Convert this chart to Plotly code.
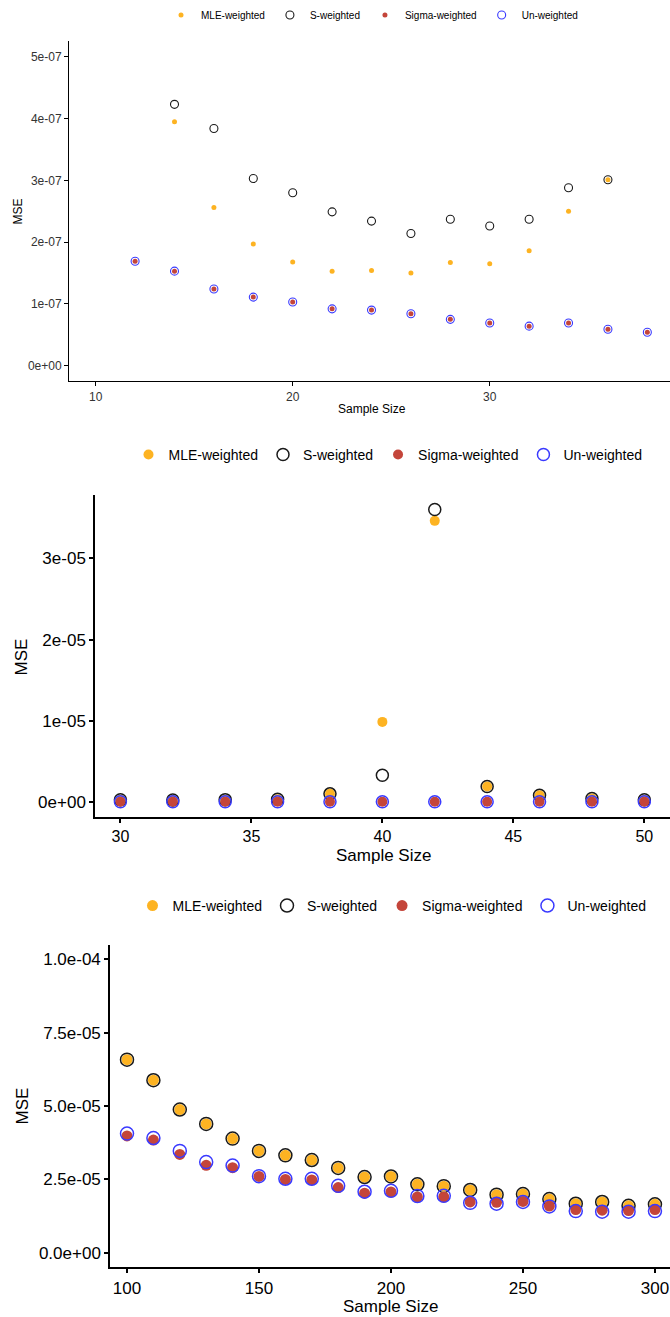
import plotly.graph_objects as go

# ---- Panel A: small samples (n = 12..38) ----
n_a = [12, 14, 16, 18, 20, 22, 24, 26, 28, 30, 32, 34, 36, 38]
n_a_w = [14, 16, 18, 20, 22, 24, 26, 28, 30, 32, 34, 36]
mle_a = [3.95e-7, 2.56e-7, 1.97e-7, 1.68e-7, 1.53e-7, 1.54e-7, 1.50e-7, 1.67e-7, 1.65e-7, 1.86e-7, 2.50e-7, 3.01e-7]
s_a = [4.23e-7, 3.84e-7, 3.03e-7, 2.80e-7, 2.49e-7, 2.34e-7, 2.14e-7, 2.37e-7, 2.26e-7, 2.37e-7, 2.88e-7, 3.01e-7]
sigma_a = [1.69e-7, 1.53e-7, 1.24e-7, 1.11e-7, 1.03e-7, 0.92e-7, 0.90e-7, 0.84e-7, 0.75e-7, 0.69e-7, 0.64e-7, 0.69e-7, 0.59e-7, 0.54e-7]
un_a = [1.69e-7, 1.53e-7, 1.24e-7, 1.11e-7, 1.03e-7, 0.92e-7, 0.90e-7, 0.84e-7, 0.75e-7, 0.69e-7, 0.64e-7, 0.69e-7, 0.59e-7, 0.54e-7]
yt_a = [0, 1e-7, 2e-7, 3e-7, 4e-7, 5e-7]
yl_a = ["0e+00", "1e-07", "2e-07", "3e-07", "4e-07", "5e-07"]
xt_a = [10, 20, 30]

# ---- Panel B: n = 30..50 ----
n_b = [30, 32, 34, 36, 38, 40, 42, 44, 46, 48, 50]
mle_b = [0.33e-6, 0.30e-6, 0.35e-6, 0.40e-6, 1.06e-6, 9.9e-6, 34.6e-6, 1.96e-6, 0.90e-6, 0.49e-6, 0.33e-6]
s_b = [0.33e-6, 0.30e-6, 0.35e-6, 0.40e-6, 1.06e-6, 3.35e-6, 36.0e-6, 1.96e-6, 0.90e-6, 0.49e-6, 0.33e-6]
sigma_b = [0.1e-6, 0.1e-6, 0.1e-6, 0.1e-6, 0.1e-6, 0.1e-6, 0.1e-6, 0.1e-6, 0.1e-6, 0.1e-6, 0.1e-6]
un_b = [0.1e-6, 0.1e-6, 0.1e-6, 0.1e-6, 0.1e-6, 0.1e-6, 0.1e-6, 0.1e-6, 0.1e-6, 0.1e-6, 0.1e-6]
yt_b = [0, 1e-5, 2e-5, 3e-5]
yl_b = ["0e+00", "1e-05", "2e-05", "3e-05"]
xt_b = [30, 35, 40, 45, 50]

# ---- Panel C: n = 100..300 ----
n_c = [100, 110, 120, 130, 140, 150, 160, 170, 180, 190, 200,
       210, 220, 230, 240, 250, 260, 270, 280, 290, 300]
mle_c = [6.58e-5, 5.88e-5, 4.88e-5, 4.39e-5, 3.89e-5, 3.47e-5, 3.32e-5, 3.16e-5, 2.89e-5, 2.58e-5, 2.60e-5,
         2.33e-5, 2.27e-5, 2.14e-5, 1.98e-5, 2.00e-5, 1.83e-5, 1.67e-5, 1.73e-5, 1.60e-5, 1.65e-5]
s_c = [6.58e-5, 5.88e-5, 4.88e-5, 4.39e-5, 3.89e-5, 3.47e-5, 3.32e-5, 3.16e-5, 2.89e-5, 2.58e-5, 2.60e-5,
       2.33e-5, 2.27e-5, 2.14e-5, 1.98e-5, 2.00e-5, 1.83e-5, 1.67e-5, 1.73e-5, 1.60e-5, 1.65e-5]
sigma_c = [3.98e-5, 3.84e-5, 3.35e-5, 2.98e-5, 2.90e-5, 2.60e-5, 2.50e-5, 2.48e-5, 2.22e-5, 2.03e-5, 2.07e-5,
           1.90e-5, 1.90e-5, 1.73e-5, 1.72e-5, 1.75e-5, 1.59e-5, 1.47e-5, 1.45e-5, 1.44e-5, 1.47e-5]
un_c = [4.06e-5, 3.91e-5, 3.47e-5, 3.09e-5, 2.97e-5, 2.61e-5, 2.52e-5, 2.52e-5, 2.28e-5, 2.08e-5, 2.11e-5,
        1.93e-5, 1.94e-5, 1.70e-5, 1.67e-5, 1.73e-5, 1.58e-5, 1.42e-5, 1.40e-5, 1.40e-5, 1.42e-5]
yt_c = [0, 2.5e-5, 5e-5, 7.5e-5, 1e-4]
yl_c = ["0.0e+00", "2.5e-05", "5.0e-05", "7.5e-05", "1.0e-04"]
xt_c = [100, 150, 200, 250, 300]

names = ["MLE-weighted", "S-weighted", "Sigma-weighted", "Un-weighted"]
ORANGE = "#FDB322"
RED = "#C4453A"
BLUE = "#3A3AFF"
INK = "#1A1A1A"
FONT = "Liberation Sans, Arial, sans-serif"

W, H = 670, 1317


def px(x):
    return x / W


def py(y):
    return 1 - y / H


fig = go.Figure()


def add_panel(k, xs_w, mle, s, xs, sigma, un, sz_dot, sz_ring, ring_w):
    xa = "x" if k == 1 else f"x{k}"
    ya = "y" if k == 1 else f"y{k}"
    lg = "legend" if k == 1 else f"legend{k}"
    fig.add_trace(go.Scatter(x=xs_w, y=mle, mode="markers", name=names[0], xaxis=xa, yaxis=ya, legend=lg,
                             marker=dict(symbol="circle", size=sz_dot, color=ORANGE, line=dict(width=0))))
    fig.add_trace(go.Scatter(x=xs_w, y=s, mode="markers", name=names[1], xaxis=xa, yaxis=ya, legend=lg,
                             marker=dict(symbol="circle-open", size=sz_ring, color=INK, line=dict(width=ring_w, color=INK))))
    fig.add_trace(go.Scatter(x=xs, y=sigma, mode="markers", name=names[2], xaxis=xa, yaxis=ya, legend=lg,
                             marker=dict(symbol="circle", size=sz_dot, color=RED, line=dict(width=0))))
    fig.add_trace(go.Scatter(x=xs, y=un, mode="markers", name=names[3], xaxis=xa, yaxis=ya, legend=lg,
                             marker=dict(symbol="circle-open", size=sz_ring, color=BLUE, line=dict(width=ring_w, color=BLUE))))


add_panel(1, n_a_w, mle_a, s_a, n_a, sigma_a, un_a, 5, 8, 1.1)
add_panel(2, n_b, mle_b, s_b, n_b, sigma_b, un_b, 10, 12, 1.5)
add_panel(3, n_c, mle_c, s_c, n_c, sigma_c, un_c, 11, 13, 1.5)


def xaxis(anchor, dom, rng, tv, fs, lw, col):
    return dict(anchor=anchor, domain=dom, range=rng, tickvals=tv, ticktext=[str(v) for v in tv],
                showgrid=False, zeroline=False, showline=True, linecolor="black", linewidth=lw,
                ticks="outside", ticklen=4, tickwidth=lw, tickcolor="black",
                tickfont=dict(family=FONT, size=fs, color=col))


def yaxis(anchor, dom, rng, tv, tl, fs, lw, col):
    return dict(anchor=anchor, domain=dom, range=rng, tickvals=tv, ticktext=tl,
                showgrid=False, zeroline=False, showline=True, linecolor="black", linewidth=lw,
                ticks="outside", ticklen=4, tickwidth=lw, tickcolor="black",
                tickfont=dict(family=FONT, size=fs, color=col))


def legend(xc, yc, fs):
    return dict(orientation="h", x=px(xc), y=py(yc), xanchor="center", yanchor="middle",
                font=dict(family=FONT, size=fs, color="black"), bgcolor="rgba(0,0,0,0)",
                itemclick=False, itemdoubleclick=False)


fig.update_layout(
    width=W, height=H, margin=dict(l=0, r=0, t=0, b=0),
    paper_bgcolor="white", plot_bgcolor="white", showlegend=True,
    xaxis=xaxis("y", [px(69), 1], [8.645, 39.15], xt_a, 12, 1, "#333333"),
    yaxis=yaxis("x", [py(379), py(38.4)], [-2.5e-8, 5.25e-7], yt_a, yl_a, 12, 1, "#333333"),
    xaxis2=xaxis("y2", [px(95), 1], [29.03, 50.98], xt_b, 16, 1.5, "black"),
    yaxis2=yaxis("x2", [py(816), py(492.7)], [-1.8e-6, 3.783e-5], yt_b, yl_b, 17, 1.5, "black"),
    xaxis3=xaxis("y3", [px(110), 1], [93.56, 305.7], xt_c, 17, 1.5, "black"),
    yaxis3=yaxis("x3", [py(1267.3), py(943.8)], [-5e-6, 1.05e-4], yt_c, yl_c, 17, 1.5, "black"),
    legend=legend(372, 12, 10),
    legend2=legend(388, 453, 14),
    legend3=legend(392, 905, 14),
)

# axis titles
titles = [
    ("Sample Size", 372, 407, 12, 0),
    ("MSE", 18, 209, 12, -90),
    ("Sample Size", 383, 854, 17, 0),
    ("MSE", 22, 656, 17, -90),
    ("Sample Size", 390, 1306, 17, 0),
    ("MSE", 22, 1106, 17, -90),
]
for txt, x, y, fs, ang in titles:
    fig.add_annotation(text=txt, xref="paper", yref="paper", x=px(x), y=py(y),
                       xanchor="center", yanchor="middle", showarrow=False, textangle=ang,
                       font=dict(family=FONT, size=fs, color="black"))

fig.write_html("out.html")
